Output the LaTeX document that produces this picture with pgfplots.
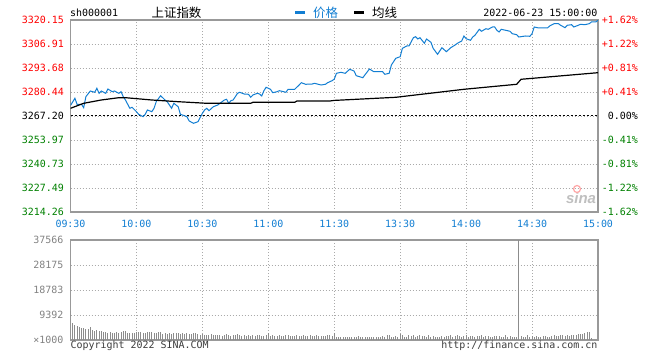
\documentclass[border=0pt]{standalone}
\usepackage{pgfplots}
\pgfplotsset{compat=1.18}
\usepackage{fontspec}
\setmainfont{DejaVu Sans Mono}
\newfontfamily\mono{DejaVu Sans Mono}
\newfontfamily\cjk{Noto Sans CJK SC}
\newfontfamily\sinaf{Liberation Sans}
\definecolor{sred}{RGB}{255,0,0}
\definecolor{sgreen}{RGB}{0,128,0}
\definecolor{sblue}{RGB}{18,126,210}
\definecolor{framegray}{RGB}{153,153,153}
\definecolor{gridgray}{RGB}{170,170,170}
\definecolor{volgray}{RGB}{140,140,140}
\definecolor{labgray}{RGB}{130,130,130}
\definecolor{txtgray}{RGB}{60,60,60}
\begin{document}
\begin{tikzpicture}
\useasboundingbox (0bp,0bp) rectangle (660bp,360bp);
\pgfplotsset{
  sina/.style={
    scale only axis, width=527.5bp, xmin=0, xmax=240,
    xtick={0,30,...,240}, major tick length=0pt,
    axis line style={draw=framegray, line width=1.2bp},
    grid=major,
    major grid style={draw=gridgray, line width=0.8bp, dash pattern=on 1bp off 2bp},
    tick label style={font=\mono\fontsize{10}{10}\selectfont, inner sep=0pt},
    scaled y ticks=false,
    anchor=south west,
  }
}
% ---------- price panel ----------
\begin{axis}[sina, at={(70.5bp,148bp)}, height=192bp,
  ymin=3214.26, ymax=3320.15,
  ytick={3214.26,3227.49625,3240.7325,3253.96875,3267.205,3280.44125,3293.6775,3306.91375,3320.15},
  yticklabels={\textcolor{sgreen}{3214.26},\textcolor{sgreen}{3227.49},\textcolor{sgreen}{3240.73},\textcolor{sgreen}{3253.97},\textcolor{black}{3267.20},\textcolor{sred}{3280.44},\textcolor{sred}{3293.68},\textcolor{sred}{3306.91},\textcolor{sred}{3320.15}},
  yticklabel style={anchor=east, xshift=-6.5bp},
  xticklabels={09:30,10:00,10:30,11:00,11:30,13:30,14:00,14:30,15:00},
  xticklabel style={text=sblue, anchor=base, yshift=-15.5bp},
  legend columns=2,
  legend style={at={(0.4256,1.0365)}, anchor=west, draw=none, fill=none, inner sep=0pt,
    font=\cjk\fontsize{12.5}{12.5}\selectfont,
    /tikz/every even column/.append style={column sep=14bp}},
]
\addplot[black, line width=1bp, dash pattern=on 2bp off 2bp, forget plot] coordinates {(0,3267.205) (240,3267.205)};
\addplot[sblue, line width=1bp,
  legend image code/.code={\fill[sblue, draw=none] (0bp,-1.5bp) rectangle (10bp,1.5bp); \path[draw=none, fill=none] (0bp,-0.1bp) rectangle (16bp,0.1bp);}]
  table[row sep=\\] {
x y\\
0 3273.00\\ 2 3276.97\\ 3 3273.66\\ 5 3273.66\\ 6 3271.78\\ 7 3277.85\\ 9 3280.99\\
11 3280.28\\ 12 3282.48\\ 13 3279.72\\ 14 3280.99\\ 16 3279.72\\ 17 3282.10\\ 19 3280.61\\
20 3280.99\\ 22 3279.72\\ 23 3280.61\\ 24 3277.85\\ 25 3276.03\\ 27 3271.45\\ 28 3272.00\\
30 3269.58\\ 31 3268.14\\ 33 3266.82\\ 34 3268.14\\ 35 3270.51\\ 37 3269.58\\ 38 3271.45\\
39 3275.09\\ 41 3278.40\\ 43 3276.03\\ 44 3275.09\\ 46 3271.45\\ 47 3274.21\\ 49 3272.33\\
50 3268.14\\ 53 3266.82\\ 54 3264.45\\ 56 3263.18\\ 58 3264.06\\ 60 3268.69\\ 61 3270.51\\
62 3271.45\\ 63 3270.13\\ 65 3272.33\\ 67 3273.27\\ 70 3276.03\\ 71 3276.42\\ 72 3274.21\\
73 3275.64\\ 74 3276.03\\ 76 3279.72\\ 77 3280.28\\ 79 3279.34\\ 81 3279.17\\ 82 3277.52\\
83 3278.79\\ 85 3279.72\\ 86 3279.34\\ 87 3278.24\\ 88 3281.16\\ 89 3283.03\\ 91 3281.93\\
92 3280.06\\ 94 3280.61\\ 95 3281.16\\ 97 3280.61\\ 98 3280.28\\ 99 3281.93\\ 102 3281.93\\
104 3284.30\\ 105 3285.57\\ 107 3284.69\\ 110 3284.85\\ 111 3285.24\\ 114 3284.30\\ 116 3284.69\\
117 3285.57\\ 119 3286.67\\ 120 3287.50\\ 121 3290.75\\ 123 3291.31\\ 125 3290.75\\ 127 3292.96\\
129 3292.02\\ 130 3289.43\\ 133 3288.33\\ 136 3293.13\\ 138 3291.64\\ 142 3291.64\\ 143 3290.20\\
145 3290.75\\ 146 3295.33\\ 148 3299.03\\ 150 3299.91\\ 151 3304.54\\ 153 3305.81\\ 154 3305.81\\
156 3310.39\\ 157 3310.94\\ 158 3309.67\\ 159 3310.39\\ 161 3307.30\\ 162 3309.67\\ 164 3307.85\\
165 3304.54\\ 167 3301.23\\ 169 3304.87\\ 171 3302.67\\ 173 3304.87\\ 175 3306.36\\ 176 3307.30\\
178 3308.57\\ 179 3311.30\\ 180 3309.84\\ 182 3308.95\\ 183 3310.77\\ 184 3311.71\\ 186 3315.02\\
187 3313.92\\ 189 3315.35\\ 190 3315.02\\ 192 3316.29\\ 193 3316.29\\ 194 3314.47\\ 195 3313.53\\
196 3315.02\\ 198 3314.47\\ 200 3313.92\\ 201 3312.59\\ 203 3312.04\\ 204 3310.77\\ 207 3311.33\\
209 3311.16\\ 210 3312.59\\ 211 3316.29\\ 213 3315.74\\ 217 3315.74\\ 218 3316.84\\ 220 3318.11\\
222 3318.11\\ 223 3317.23\\ 225 3315.90\\ 226 3317.23\\ 228 3317.56\\ 229 3316.29\\ 231 3317.23\\
232 3317.78\\ 234 3317.56\\ 236 3318.11\\ 237 3319.05\\ 239 3319.05\\ 240 3320.00\\
};
\addlegendentry{\textcolor{sblue}{价格}}
\addplot[black, line width=1.2bp,
  legend image code/.code={\fill[black, draw=none] (0bp,-1.5bp) rectangle (10bp,1.5bp); \path[draw=none, fill=none] (0bp,-0.1bp) rectangle (16bp,0.1bp);}]
  table[row sep=\\] {
x y\\
0 3271.45\\ 6 3274.21\\ 14 3276.03\\ 22 3277.30\\ 25 3277.30\\ 37 3276.03\\ 49 3275.09\\
62 3274.21\\ 82 3274.21\\ 83 3274.76\\ 102 3274.76\\ 103 3275.48\\ 118 3275.48\\ 120 3275.80\\
148 3277.52\\ 179 3281.93\\ 203 3284.69\\ 205 3287.45\\ 240 3291.09\\
};
\addlegendentry{均线}
\end{axis}
% ---------- right percent labels ----------
\begin{axis}[sina, at={(70.5bp,148bp)}, height=192bp,
  ymin=3214.26, ymax=3320.15, grid=none, axis line style={draw=none},
  xtick=\empty,
  ytick={3214.26,3227.49625,3240.7325,3253.96875,3267.205,3280.44125,3293.6775,3306.91375,3320.15},
  yticklabel pos=right,
  yticklabels={\textcolor{sgreen}{-1.62\%},\textcolor{sgreen}{-1.22\%},\textcolor{sgreen}{-0.81\%},\textcolor{sgreen}{-0.41\%},\textcolor{black}{0.00\%},\textcolor{sred}{+0.41\%},\textcolor{sred}{+0.81\%},\textcolor{sred}{+1.22\%},\textcolor{sred}{+1.62\%}},
  yticklabel style={anchor=east, xshift=40bp},
]
\addplot[draw=none] coordinates {(0,3267.205)};
\end{axis}
% ---------- volume panel ----------
\begin{axis}[sina, at={(70.5bp,20bp)}, height=100bp,
  ymin=0, ymax=37566,
  ytick={0,9391.5,18783,28174.5,37566},
  yticklabels={×1000,9392,18783,28175,37566},
  yticklabel style={anchor=east, xshift=-7bp, text=labgray},
  xticklabels={},
]
\addplot[ycomb, draw=volgray, line width=1bp, mark=none]
  table[x expr=\coordindex, y index=0, header=false, row sep=\\] {
11000\\ 6400\\ 5700\\ 5100\\ 4700\\ 4500\\ 4400\\ 4200\\ 4100\\ 4700\\
3900\\ 3500\\ 3700\\ 3300\\ 3200\\ 2900\\ 2900\\ 2800\\ 2900\\ 2800\\
2800\\ 2900\\ 2800\\ 3000\\ 3200\\ 3200\\ 2700\\ 2600\\ 2500\\ 2800\\
2900\\ 3000\\ 2900\\ 2600\\ 2800\\ 2900\\ 3000\\ 2900\\ 2500\\ 2700\\
3000\\ 2900\\ 2200\\ 2700\\ 2400\\ 2600\\ 2300\\ 2600\\ 2500\\ 2700\\
2400\\ 2500\\ 2200\\ 2600\\ 2100\\ 2200\\ 2800\\ 2500\\ 2200\\ 2000\\
2100\\ 1900\\ 2000\\ 1800\\ 2200\\ 1900\\ 1700\\ 1900\\ 2000\\ 1600\\
1700\\ 2300\\ 1900\\ 1600\\ 1800\\ 1900\\ 2100\\ 1700\\ 1600\\ 1800\\
1500\\ 1700\\ 1600\\ 2000\\ 1500\\ 1700\\ 1900\\ 1600\\ 1500\\ 1700\\
2600\\ 1500\\ 1700\\ 1600\\ 1500\\ 1800\\ 1600\\ 1500\\ 1700\\ 1900\\
1600\\ 1500\\ 1400\\ 1700\\ 1600\\ 1500\\ 1900\\ 1600\\ 1500\\ 1700\\
1500\\ 1600\\ 1700\\ 1500\\ 1400\\ 1600\\ 1500\\ 1700\\ 1800\\ 1600\\
2800\\
1200\\ 1100\\ 1300\\ 1100\\ 1000\\ 1200\\ 1100\\ 1300\\ 1200\\ 1100\\
1400\\ 1200\\ 1100\\ 1300\\ 1200\\ 1000\\ 1200\\ 1300\\ 1100\\ 1200\\
1300\\ 1600\\ 1100\\ 1700\\ 1700\\ 1200\\ 1300\\ 1400\\ 1100\\ 2100\\
1800\\ 1200\\ 1100\\ 1700\\ 1600\\ 1800\\ 1200\\ 1500\\ 1700\\ 1400\\
1600\\ 1200\\ 1900\\ 1300\\ 1500\\ 1200\\ 1100\\ 1200\\ 1600\\ 1300\\
1400\\ 1500\\ 1800\\ 1200\\ 1500\\ 1800\\ 1400\\ 1300\\ 1600\\ 2000\\
1200\\ 1400\\ 1500\\ 1300\\ 1600\\ 1400\\ 1700\\ 1200\\ 1500\\ 1600\\
1300\\ 1100\\ 1500\\ 1600\\ 1400\\ 1200\\ 1300\\ 1700\\ 1200\\ 1500\\
1300\\ 1100\\ 1200\\ 37566\\ 1500\\ 1300\\ 1100\\ 1700\\ 1300\\ 1500\\
1200\\ 1400\\ 1300\\ 1200\\ 1400\\ 1500\\ 1300\\ 1200\\ 1600\\ 1800\\
1500\\ 1500\\ 1800\\ 1700\\ 1600\\ 1800\\ 1400\\ 1800\\ 1900\\ 1700\\
2100\\ 2400\\ 2300\\ 2600\\ 2900\\ 3100\\ 600\\ 0\\ 0\\ 0\\
};
\end{axis}
% ---------- header and footer texts ----------
\node[anchor=west, inner sep=0pt, font=\mono\fontsize{10}{10}\selectfont] at (70bp,347bp) {sh000001};
\node[inner sep=0pt, font=\cjk\fontsize{12.5}{12.5}\selectfont] at (176.5bp,347bp) {上证指数};
\node[anchor=east, inner sep=0pt, font=\mono\fontsize{10}{10}\selectfont] at (597.5bp,347bp) {2022-06-23 15:00:00};
\node[anchor=west, inner sep=0pt, text=txtgray, font=\mono\fontsize{10}{10}\selectfont] at (70.5bp,14bp) {Copyright 2022 SINA.COM};
\node[anchor=east, inner sep=0pt, text=txtgray, font=\mono\fontsize{10}{10}\selectfont] at (597.5bp,14bp) {http://finance.sina.com.cn};
% sina watermark
\node[inner sep=0pt, text=black!25, font=\sinaf\bfseries\itshape\fontsize{15}{15}\selectfont] at (581bp,162bp) {sina};
\draw[red!35, line width=1.2bp] (577bp,171bp) circle (3.5bp);
\end{tikzpicture}
\end{document}
